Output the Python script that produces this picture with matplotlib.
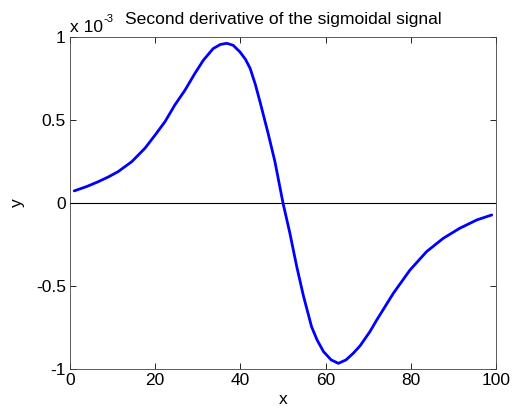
import matplotlib.pyplot as plt
from matplotlib.ticker import FixedLocator

# values (y in units of 1e-3)
x_vals = [1, 4, 6.6, 9, 11.3, 14.5, 17.6, 20, 22.3, 24.6, 27, 29.3, 31.3,
          33.6, 35.3, 36.8, 38.3, 39.9, 41.2, 42.3, 43.5, 44.6, 46.5, 48.1,
          50, 51.6, 53.2, 54.8, 56.7, 58, 59.5, 61.3, 63, 64.8, 66.5, 68.1,
          70.4, 72, 75.9, 79.8, 83.7, 87.6, 91.5, 95.5, 99]
y_vals = [0.073, 0.10, 0.128, 0.157, 0.189, 0.249, 0.33, 0.41, 0.49, 0.59,
          0.68, 0.78, 0.86, 0.93, 0.955, 0.962, 0.95, 0.91, 0.865, 0.81,
          0.715, 0.61, 0.42, 0.25, 0.0, -0.18, -0.38, -0.56, -0.745, -0.825,
          -0.895, -0.945, -0.966, -0.945, -0.905, -0.86, -0.775, -0.705,
          -0.544, -0.404, -0.293, -0.213, -0.152, -0.102, -0.072]
x_ticks = [0, 20, 40, 60, 80, 100]
y_ticks = [-1, -0.5, 0, 0.5, 1]
y_tick_labels = ['-1', '-0.5', '0', '0.5', '1']

plt.rcParams['font.family'] = ['Liberation Sans', 'DejaVu Sans']

W, H = 515, 408
fig = plt.figure(figsize=(W / 100, H / 100), dpi=100)
ax = fig.add_axes([70 / W, 1 - 369 / H, 426 / W, 332 / H])

ax.axhline(0, color='black', lw=0.8, zorder=1)
ax.plot(x_vals, y_vals, color='#0000ff', lw=2.0, zorder=2,
        solid_joinstyle='round', solid_capstyle='round')

ax.set_xlim(0, 100)
ax.set_ylim(-1, 1)
ax.xaxis.set_major_locator(FixedLocator(x_ticks))
ax.set_yticks(y_ticks)
ax.set_yticklabels(y_tick_labels)
ax.tick_params(direction='in', top=True, right=True, labelsize=12.5, length=4,
               width=0.6, colors='black', pad=3)
for s in ax.spines.values():
    s.set_linewidth(0.6)
    s.set_color('#404040')

ax.set_xlabel('x', fontsize=12.5, labelpad=3)
ax.set_ylabel('y', fontsize=12.5, labelpad=8)

# title and exponent label placed in pixel positions of the reference
fig.text(283 / W, 1 - 24 / H, 'Second derivative of the sigmoidal signal',
         fontsize=12.6, ha='center', va='baseline')
fig.text(70 / W, 1 - 32.5 / H, 'x 10', fontsize=12.5, ha='left', va='baseline')
fig.text(103 / W, 1 - 21.5 / H, '-3', fontsize=8, ha='left', va='baseline')

fig.savefig('out.png', dpi=100, facecolor='white')
